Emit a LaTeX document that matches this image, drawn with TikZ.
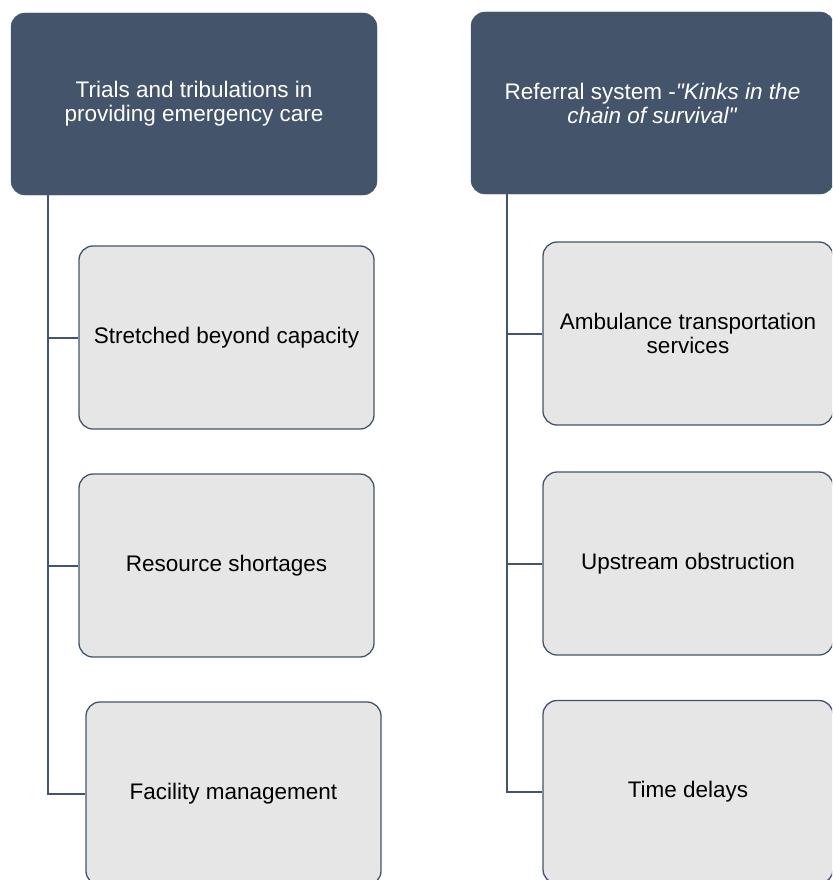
\documentclass[tikz,border=0pt]{standalone}
\usepackage{fontspec}
\setmainfont{Liberation Sans}[Ligatures=TeXOff]
\usetikzlibrary{positioning}

\definecolor{slate}{HTML}{44546A}
\definecolor{boxgray}{HTML}{E7E6E6}

\tikzset{
  theme/.style={rectangle, rounded corners=14pt, fill=slate, draw=slate,
    text=white, align=center, inner sep=0pt,
    minimum width=366pt, minimum height=182pt,
    font=\fontsize{22.5}{24}\selectfont},
  topic/.style={rectangle, rounded corners=14pt, fill=boxgray, draw=slate,
    line width=1.3pt, text=black, align=center, inner sep=0pt,
    minimum width=295pt, minimum height=183pt,
    font=\fontsize{22.5}{24}\selectfont},
  branch/.style={draw=slate, line width=2pt}
}

\begin{document}
\begin{tikzpicture}[x=1pt,y=-1pt]
  \useasboundingbox (0,0) rectangle (832,880);
  \clip (0,0) rectangle (832,880);

  % headings
  \node[theme] (trials) at (194,104)
    {Trials and tribulations in\\providing emergency care};
  \node[theme, minimum width=363pt] (referral) at (652.5,103)
    {Referral system -\textit{"Kinks in the}\\\textit{chain of survival"}};

  % left column
  \node[topic] (stretched) at (226.5,337.5) {Stretched beyond capacity};
  \node[topic] (shortages) at (226.5,565.5) {Resource shortages};
  \node[topic] (facility)  at (233.5,793.5) {Facility management};

  % right column
  \node[topic, minimum width=290pt] (ambulance) at (688,333.5)
    {Ambulance transportation\\services};
  \node[topic, minimum width=290pt] (upstream)  at (688,563.5) {Upstream obstruction};
  \node[topic, minimum width=290pt] (delays)    at (688,792)   {Time delays};

  % tree lines
  \foreach \kid in {stretched,shortages,facility}
    \draw[branch] ([xshift=37pt]trials.south west) |- (\kid.west);
  \foreach \kid in {ambulance,upstream,delays}
    \draw[branch] ([xshift=36pt]referral.south west) |- (\kid.west);
\end{tikzpicture}
\end{document}
